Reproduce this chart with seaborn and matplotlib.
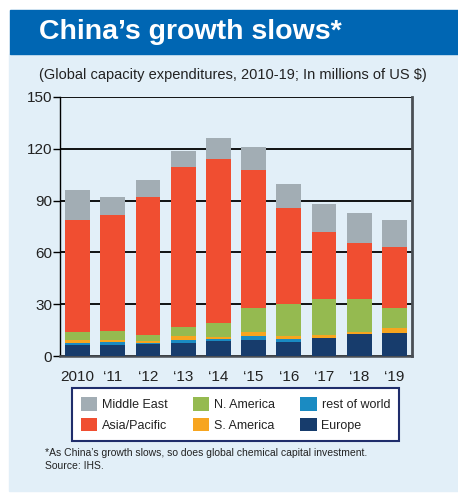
import numpy as np
import seaborn as sns
import matplotlib.pyplot as plt
from matplotlib.patches import Rectangle

# Global capacity expenditures, millions of US $
years = ["2010", "\u201811", "\u201812", "\u201813", "\u201814", "\u201815",
         "\u201816", "\u201817", "\u201818", "\u201819"]
europe = [6.4, 6.4, 6.7, 7.8, 8.8, 9.4, 8.2, 10.5, 12.9, 13.4]
rest_of_world = [1.3, 1.9, 0.6, 1.6, 1.1, 2.3, 1.7, 0.0, 0.0, 0.0]
s_america = [1.7, 1.1, 1.4, 2.3, 1.0, 2.3, 1.8, 1.8, 1.1, 3.0]
n_america = [4.7, 5.3, 3.5, 4.9, 8.4, 14.0, 18.7, 21.0, 19.3, 11.6]
asia_pacific = [64.8, 67.1, 79.6, 92.7, 94.7, 79.5, 55.5, 38.6, 32.2, 35.1]
middle_east = [17.5, 10.5, 9.9, 9.3, 12.2, 13.5, 13.5, 16.4, 17.5, 15.8]

# bottom -> top
series = [
    ("Europe", europe, "#173c6c"),
    ("rest of world", rest_of_world, "#1a8bc2"),
    ("S. America", s_america, "#f7a51f"),
    ("N. America", n_america, "#95ba50"),
    ("Asia/Pacific", asia_pacific, "#f04e31"),
    ("Middle East", middle_east, "#a2adb4"),
]

sns.set_theme(style="white")
plt.rcParams["font.family"] = ["Liberation Sans", "DejaVu Sans"]

panel = "#e2eff8"
fig = plt.figure(figsize=(4.58, 5.0), dpi=100)
fig.patch.set_facecolor("white")
fig.patches.append(Rectangle((9 / 458, 1 - 491 / 500), 449 / 458, 437 / 500,
                             transform=fig.transFigure, color=panel, zorder=-2))
fig.patches.append(Rectangle((10 / 458, 1 - 54 / 500), 448 / 458, 44 / 500,
                             transform=fig.transFigure, color="#0066b3", zorder=-2))

fig.text(39 / 458, 1 - 32 / 500, "China\u2019s growth slows*", color="white",
         fontsize=20.5, fontweight="bold", va="center", ha="left")
fig.text(39 / 458, 1 - 75 / 500,
         "(Global capacity expenditures, 2010-19; In millions of US $)",
         color="#222222", fontsize=10.5, va="center", ha="left")

ax = fig.add_axes([60 / 458, 1 - 356 / 500, 352 / 458, 259 / 500])
ax.set_facecolor("none")

# stacked bars: draw cumulative totals from the top segment down
cum = np.cumsum([np.array(s[1]) for s in series], axis=0)
for i in range(len(series) - 1, -1, -1):
    name, _, color = series[i]
    sns.barplot(x=years, y=cum[i], color=color, saturation=1, width=0.71,
                label=name, ax=ax, zorder=3, linewidth=0)

ax.set_ylim(0, 150)
ax.set_yticks([0, 30, 60, 90, 120, 150])
ax.yaxis.grid(True, color="black", linewidth=1.3, zorder=1)
ax.set_axisbelow(True)
ax.set_xlabel("")
ax.set_ylabel("")
ax.tick_params(axis="y", which="major", left=True, length=5, width=1,
               color="black", pad=0.5, labelsize=11, labelcolor="#222222")
ax.tick_params(axis="x", bottom=False, pad=4, labelsize=11, labelcolor="#222222")
ax.spines["top"].set_visible(False)
ax.spines["left"].set_color("black")
ax.spines["left"].set_linewidth(1)
ax.spines["right"].set_color("#4a4f55")
ax.spines["right"].set_linewidth(2)
ax.spines["bottom"].set_color("#4a4f55")
ax.spines["bottom"].set_linewidth(1.8)
if ax.get_legend() is not None:
    ax.get_legend().remove()

handles, labels = ax.get_legend_handles_labels()
leg = fig.legend(handles, labels, ncol=3, loc="center",
                 bbox_to_anchor=((72 + 399) / 2 / 458, 1 - (385 + 444) / 2 / 500),
                 fontsize=9, frameon=True, fancybox=False, edgecolor="#1f2d6b",
                 facecolor="white", framealpha=1, handlelength=1.3,
                 handleheight=1.3, handletextpad=0.4, columnspacing=2.0,
                 labelspacing=0.5, borderpad=0.75)
leg.get_frame().set_linewidth(1.5)
for t in leg.get_texts():
    t.set_color("#222222")

fig.text(45 / 458, 1 - 453 / 500,
         "*As China\u2019s growth slows, so does global chemical capital investment.",
         fontsize=7.5, color="#222222", va="center", ha="left")
fig.text(45 / 458, 1 - 466 / 500, "Source: IHS.", fontsize=7.5, color="#222222",
         va="center", ha="left")

fig.savefig("out.png", dpi=100)
